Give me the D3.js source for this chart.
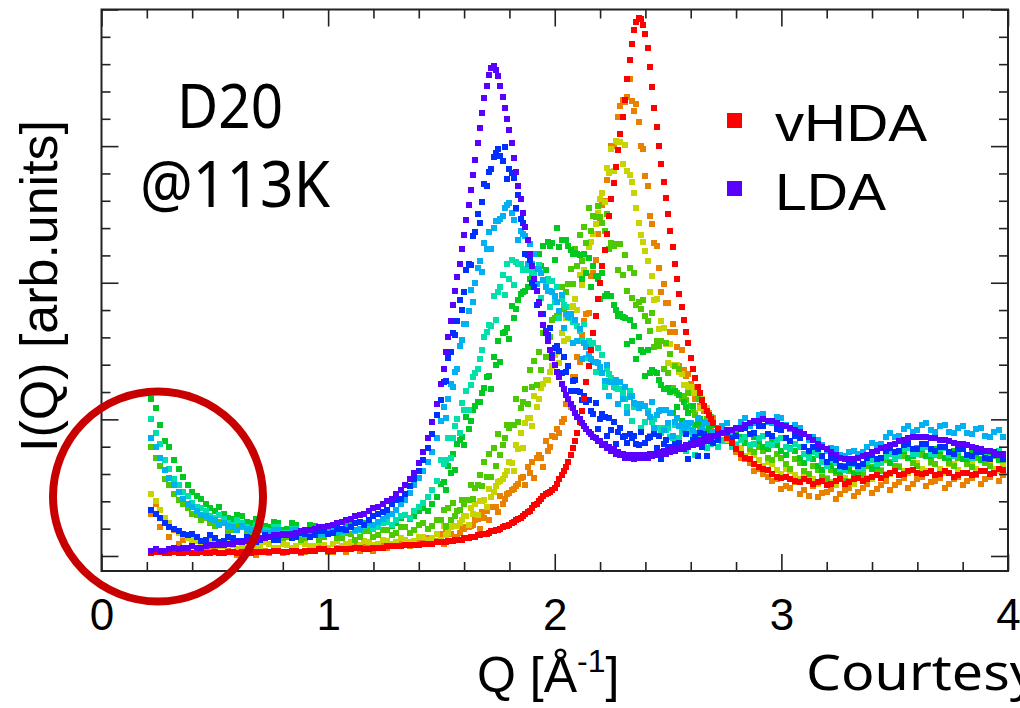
<!DOCTYPE html>
<html><head><meta charset="utf-8">
<script src="https://cdn.jsdelivr.net/npm/d3@7"></script>
<style>body{margin:0;background:#fff;}svg{display:block;}</style>
</head><body>
<svg id="chart" width="1020" height="708"></svg>
<script>
// ---------- DATA ----------
const qLow = [0.22,0.24,0.26,0.28,0.30,0.32,0.34,0.36,0.38,0.40,
0.42,0.44,0.46,0.48,0.50,0.52,0.54,0.56,0.58,0.60,
0.62,0.64,0.66,0.68,0.70,0.72,0.74,0.76,0.78,0.80,
0.82,0.84,0.86,0.88,0.90,0.92,0.94,0.96,0.98,1.00,
1.02,1.04,1.06,1.08,1.10,1.12,1.14,1.16,1.18,1.20,
1.22,1.24,1.26,1.28,1.30,1.32,1.34,1.36,1.38,1.40,
1.42,1.44,1.46,1.48];
const qPeak = [1.50,1.51,1.52,1.53,1.54,1.55,1.56,1.57,1.58,1.59,
1.60,1.61,1.62,1.63,1.64,1.65,1.66,1.67,1.68,1.69,
1.70,1.71,1.72,1.73,1.74,1.75,1.76,1.77,1.78,1.79,
1.80,1.81,1.82,1.83,1.84,1.85,1.86,1.87,1.88,1.89,
1.90,1.91,1.92,1.93,1.94,1.95,1.96,1.97,1.98,1.99,
2.00,2.01,2.02,2.03,2.04,2.05,2.06,2.07,2.08,2.09,
2.10,2.11,2.12,2.13,2.14,2.15,2.16,2.17,2.18,2.19,
2.20,2.21,2.22,2.23,2.24,2.25,2.26,2.27,2.28,2.29,
2.30,2.31,2.32,2.33,2.34,2.35,2.36,2.37,2.38,2.39,
2.40,2.41,2.42,2.43,2.44,2.45,2.46,2.47,2.48,2.49,
2.50,2.51,2.52,2.53,2.54,2.55,2.56,2.57,2.58,2.59,
2.60,2.61,2.62,2.63,2.64,2.65,2.66,2.67,2.68,2.69,
2.70];
const qHigh = [2.72,2.74,2.76,2.78,2.80,2.82,2.84,2.86,2.88,2.90,
2.92,2.94,2.96,2.98,3.00,3.02,3.04,3.06,3.08,3.10,
3.12,3.14,3.16,3.18,3.20,3.22,3.24,3.26,3.28,3.30,
3.32,3.34,3.36,3.38,3.40,3.42,3.44,3.46,3.48,3.50,
3.52,3.54,3.56,3.58,3.60,3.62,3.64,3.66,3.68,3.70,
3.72,3.74,3.76,3.78,3.80,3.82,3.84,3.86,3.88,3.90,
3.92,3.94,3.96,3.98];

const iVHDA = [
2,3,3,2,2,3,2,2,3,2, 2,3,2,2,3,2,2,3,3,2, 3,3,2,3,3,3,3,4,4,3,
3,4,4,3,4,4,4,5,5,4, 4,5,5,5,5,6,6,5,5,6, 6,6,7,7,7,7,8,8,8,8, 9,9,9,10,
10,10,10,11,11,11,12,12,12,12,
13,13,13,14,14,14,15,15,16,16,
16,17,18,18,19,19,20,21,22,22,
23,24,25,26,27,28,29,31,32,33,
35,37,38,40,42,44,45,46,47,48,
50,53,56,59,62,65,69,74,79,84,
90,98,106,115,127,139,151,163,176,188,
200,212,224,236,249,261,273,285,297,309,
321,334,349,363,375,385,391,394,393,389,
382,372,358,343,328,314,300,287,274,262,
250,238,226,214,203,192,182,173,164,156,
145,137,130,124,119,114,110,106,103,100,
97,
93,90,86,83,78,75,72,71,67,65, 64,63,60,58,57,58,56,55,54,56, 55,53,54,55,52,53,55,56,53,54,
56,57,55,56,58,59,57,59,61,62, 59,60,62,63,61,60,61,62,59,60, 62,61,58,59,61,61,59,60,62,62, 60,61,64,63];

const iStep1 = [
31,38,21,27,14,19,9,12,6,8, 5,7,3,5,4,2,2,4,3,1, 2,5,4,1,3,4,2,5,4,2,
3,6,5,2,3,5,4,6,5,3, 3,6,5,3,6,8,4,7,6,4, 7,9,6,9,8,11,9,7,8,11, 10,13,12,11,
16,9,18,17,16,11,22,14,17,20,
20,21,21,22,23,26,27,20,32,28,
33,26,36,36,36,32,44,38,42,45,
46,48,49,51,53,57,58,52,65,61,
69,57,72,74,72,65,84,77,80,88,
87,93,90,98,100,111,113,109,131,131,
146,142,162,172,177,178,205,207,217,236,
244,257,260,275,281,300,300,303,321,329,
334,332,336,349,333,326,331,318,300,298,
278,271,249,243,229,227,211,193,199,185,
185,164,170,164,153,139,151,136,132,133,
126,124,115,115,110,112,106,92,105,95,
101,
92,85,84,80,76,72,71,68,62,64, 60,58,55,56,49,51,50,54,45,48, 44,51,43,46,47,49,42,45,48,50,
44,47,50,53,46,49,52,55,48,52, 54,57,50,53,56,58,51,54,55,57, 50,53,56,58,52,55,57,59,53,56, 58,61,55,59];

const iStep2 = [
45,40,34,28,24,20,17,15,13,12, 11,8,9,12,10,7,7,10,8,5, 6,9,8,6,7,10,9,6,6,9,
8,6,7,10,9,7,7,10,8,6, 9,11,7,9,10,12,8,11,10,8, 9,12,11,9,10,13,12,10,11,14, 14,12,13,16,
12,22,15,17,21,22,22,22,24,26,
29,29,23,35,31,38,30,40,40,41,
36,49,43,47,51,54,55,56,59,62,
69,68,62,81,78,90,79,97,101,101,
95,117,109,115,123,126,129,129,135,139,
147,149,141,163,157,174,159,182,183,188,
180,206,198,209,218,226,230,236,243,251,
261,266,259,284,280,298,282,304,303,303,
287,301,282,279,274,266,255,244,235,230,
223,216,193,205,187,188,166,172,167,155,
141,155,140,139,140,135,133,125,125,122,
124,119,105,119,108,115,96,108,104,98,
87,
93,90,85,84,82,79,73,76,74,70, 66,69,67,63,60,64,62,59,56,61, 59,56,53,59,57,54,52,58,57,55,
53,60,60,57,56,62,63,60,60,66, 66,62,61,68,68,64,62,68,67,64, 61,67,67,63,61,67,67,64,62,68, 68,64,62,66];

const iStep3 = [
80,72,66,56,52,45,41,38,35,31, 30,26,28,24,22,25,24,18,19,22, 21,17,17,20,19,14,15,19,18,13,
14,18,17,12,13,17,16,12,14,18, 17,13,13,17,16,12,14,18,18,14, 15,19,19,15,17,21,21,17,19,23, 24,20,22,26,
26,34,22,35,26,39,29,33,34,41,
38,41,41,52,42,50,52,59,51,69,
58,75,58,79,66,89,74,81,86,96,
94,96,96,115,98,108,113,122,111,136,
124,143,125,149,136,163,146,157,160,173,
174,176,178,197,181,193,199,210,199,225,
212,235,216,241,229,255,238,249,248,256,
248,244,238,250,225,229,227,228,209,228,
206,220,194,211,189,207,184,186,181,187,
176,172,165,178,153,157,154,157,137,156,
134,148,123,139,119,137,115,117,114,119,
110,107,103,115,94,97,98,100,85,102,
86,
87,91,89,84,81,86,83,78,76,80, 77,72,70,75,72,67,64,71,68,62, 60,66,63,58,56,63,61,57,55,62,
61,60,59,66,65,62,62,70,69,66, 65,73,72,68,66,74,73,69,67,73, 72,68,66,72,71,67,65,72,71,68, 66,73,72,70];

const iStep4 = [
115,108,96,84,80,70,64,58,52,47, 44,42,38,35,33,36,31,28,27,30, 29,25,24,27,26,22,21,25,24,19,
20,24,23,18,19,23,22,17,18,22, 22,18,19,23,23,19,20,24,24,20, 21,25,26,22,24,28,30,27,29,33, 35,33,38,43,
53,54,48,66,61,75,63,82,85,87,
81,102,93,99,107,110,113,113,119,123,
131,132,122,146,140,157,142,163,164,167,
159,183,174,181,187,192,193,194,197,203,
207,210,199,221,212,227,209,230,227,229,
217,240,226,231,231,231,227,224,221,222,
221,220,203,221,207,218,197,212,205,203,
188,207,190,192,190,190,184,180,176,177,
175,174,155,173,157,168,144,160,151,149,
132,151,134,136,135,134,129,125,122,122,
123,120,105,121,109,118,99,113,109,105,
92,110,96,97,100,97,97,91,93,91,
96,
94,90,86,84,90,87,83,81,87,84, 80,78,84,81,77,74,79,77,72,68, 73,71,66,63,68,66,62,60,66,64,
60,62,67,68,64,66,71,73,68,71, 76,77,72,73,79,78,73,73,78,77, 72,72,77,76,71,71,76,75,70,71, 76,75,70,72];

const iStep5 = [
100,90,82,70,64,56,52,47,44,39, 36,35,33,29,28,30,27,24,23,26, 24,21,20,23,22,19,18,21,21,17,
17,20,20,16,16,19,19,16,17,20, 20,17,17,20,21,18,19,22,23,20, 21,24,25,23,26,29,30,28,33,36, 39,43,48,55,
70,67,70,86,72,86,95,100,90,112,
107,121,107,125,131,134,137,144,151,160,
164,169,168,190,173,193,197,206,191,214,
203,217,198,215,214,214,209,210,209,212,
208,206,199,213,189,202,199,203,182,201,
186,197,174,188,184,182,175,174,171,172,
168,165,157,170,145,157,153,156,135,152,
137,147,124,137,133,130,124,123,122,122,
119,115,109,121,99,109,110,111,94,110,
98,106,88,98,100,94,94,90,94,92,
94,87,86,96,78,86,91,90,77,91,
83,89,74,84,87,81,83,79,85,82,
86,
80,84,86,80,81,85,87,81,82,86, 88,82,81,85,86,80,78,82,80,75, 72,76,74,69,66,70,68,64,63,67,
67,64,64,69,70,67,68,73,75,72, 73,78,79,75,75,79,80,75,74,78, 79,74,73,77,78,73,72,77,78,73, 72,76,77,74];

const iStep6 = [
86,80,72,63,57,52,47,42,38,36, 33,30,29,27,26,23,24,22,21,19, 22,20,19,18,20,17,17,19,19,16,
16,19,19,17,17,18,19,16,16,18, 19,17,18,20,21,19,20,23,24,23, 25,27,29,31,34,38,41,46,52,57, 62,69,76,86,
99,109,101,115,126,124,135,137,154,158,
170,170,179,195,186,200,211,216,208,229,
225,237,225,240,245,245,247,249,255,257,
258,251,246,254,231,238,236,234,214,228,
214,221,199,210,207,202,197,194,194,193,
190,186,179,191,167,177,175,177,156,173,
157,166,144,156,153,148,144,142,142,141,
138,134,128,140,117,127,127,129,111,127,
115,124,105,116,117,112,111,108,111,110,
110,105,102,113,94,103,106,107,92,107,
97,105,88,98,101,95,96,92,97,95,
97,92,90,101,83,93,97,97,84,99,
91,
90,95,97,91,93,98,101,95,97,103, 104,98,97,102,101,96,93,96,94,89, 85,87,85,81,77,79,78,74,73,76,
77,75,76,80,83,81,82,87,90,87, 88,93,95,91,92,96,97,92,91,95, 96,91,90,94,95,90,89,93,94,88, 87,91,92,87];

const iStep7 = [
34,31,28,24,21,20,18,16,15,16, 14,11,12,15,13,10,11,14,13,11, 11,14,13,10,12,15,14,12,12,15,
15,13,14,17,16,14,15,18,18,16, 17,20,20,19,21,24,25,23,26,29, 31,32,34,38,41,42,45,51,56,62, 70,79,89,103,
114,127,128,145,149,163,162,172,187,180,
193,209,214,213,234,237,250,244,259,272,
271,281,283,292,295,298,293,289,299,276,
283,280,277,255,264,247,244,221,220,217,
200,197,184,186,177,177,165,162,167,147,
152,154,150,134,146,135,139,121,128,129,
121,120,114,117,113,114,106,104,112,93,
100,104,102,88,101,92,98,82,91,94,
87,88,83,89,86,88,82,81,91,73,
83,86,87,73,89,79,88,71,82,85,
80,80,78,82,82,83,79,78,89,71,
82,85,87,73,90,80,89,73,85,88,
83,
85,90,91,86,88,93,94,89,90,95, 95,89,88,93,92,86,84,88,86,80, 77,80,78,73,69,72,70,66,65,68,
68,66,67,72,74,71,72,77,79,76, 77,81,82,78,78,82,82,78,77,80, 80,76,75,78,78,74,73,76,76,72, 71,74,74,71];

const iLDA = [
4,5,4,4,5,6,5,6,6,7, 6,6,7,8,8,8,8,9,9,10, 10,11,11,12,13,13,14,15,15,16,
16,16,17,18,19,19,20,21,21,22, 23,24,25,26,27,29,30,31,33,35, 36,38,40,42,45,48,52,56,61,68, 76,86,98,111,
126,137,149,160,172,184,194,204,214,225,
235,246,257,268,279,290,302,313,324,335,
344,352,357,359,356,351,344,336,328,320,
312,302,291,281,271,261,251,241,231,221,
212,203,194,185,177,169,163,157,151,145,
140,135,131,126,122,118,115,111,108,105,
102,100,97,95,93,91,89,87,86,84,
84,81,82,79,80,77,78,75,76,74,
75,72,74,72,74,71,74,72,74,72,
74,72,75,73,75,74,76,74,77,75,
77,76,78,77,79,78,80,79,81,80,
82,81,83,82,85,83,86,84,87,86,
88,
89,90,92,92,94,94,96,97,99,99, 100,99,99,97,96,95,94,92,91,89, 87,85,82,80,78,76,74,72,71,71,
71,72,73,74,76,77,79,80,81,82, 84,85,86,87,87,87,87,86,86,85, 85,84,83,82,82,81,80,79,78,77, 77,76,75,75];

const seriesNames  = ["step1","step2","step3","step4","step5","step6","step7","vHDA","LDA"];
const seriesColors = ["#e88000","#c8d400","#4ec800","#00c820","#00e0a8","#00b0f0","#0030ff","#ff0000","#5a00ff"];
const seriesValues = [iStep1,iStep2,iStep3,iStep4,iStep5,iStep6,iStep7,iVHDA,iLDA];

const legendNames = ["vHDA","LDA"];
const legendColors = ["#ff0000","#5a00ff"];
const xMajorTicks = [0,1,2,3,4];
const xTickLabels = ["0","1","2","3","4"];
const xMinorTicks = [0.2,0.4,0.6,0.8,1.2,1.4,1.6,1.8,2.2,2.4,2.6,2.8,3.2,3.4,3.6,3.8];
const yMajorTicks = [0,100,200,300,400];
const yMinorTicks = [20,40,60,80,120,140,160,180,220,240,260,280,320,340,360,380];

// ---------- CHART ----------
const qGrid = qLow.concat(qPeak, qHigh);
const svg = d3.select("#chart");
svg.append("rect").attr("width",1020).attr("height",708).attr("fill","#fff");

const x = d3.scaleLinear().domain([0,4]).range([101.5,1008]);
const y = d3.scaleLinear().domain([-11,400]).range([571,9.5]);

const plot = svg.append("g");
seriesValues.forEach((vals,si)=>{
  const pts = qGrid.map((q,i)=>({q, v: vals[i]})).filter(d=>d.v!==undefined);
  plot.append("g").attr("fill",seriesColors[si]).attr("shape-rendering","crispEdges")
    .selectAll("rect").data(pts).join("rect")
    .attr("x",d=>x(d.q)-3).attr("y",d=>y(d.v)-3)
    .attr("width",6).attr("height",6);
});

// frame
svg.append("rect").attr("x",x(0)).attr("y",y(400)).attr("width",x(4)-x(0)).attr("height",y(-11)-y(400))
  .attr("fill","none").attr("stroke","#222").attr("stroke-width",2);

function styleAxis(g){
  g.select(".domain").remove();
  g.selectAll(".tick line").attr("stroke","#222").attr("stroke-width",1.6);
}
const axisFont = "'Liberation Sans', Arial, Helvetica, sans-serif";
// bottom
svg.append("g").attr("transform",`translate(0,${y(-11)})`)
  .call(d3.axisBottom(x).tickValues(xMajorTicks).tickSizeInner(-17).tickSizeOuter(0).tickPadding(28)
        .tickFormat((d,i)=>xTickLabels[i]))
  .call(styleAxis)
  .call(g=>g.selectAll("text").attr("font-size",44).attr("font-family",axisFont).attr("fill","#000"));
svg.append("g").attr("transform",`translate(0,${y(-11)})`)
  .call(d3.axisBottom(x).tickValues(xMinorTicks).tickSizeInner(-9).tickSizeOuter(0).tickFormat(""))
  .call(styleAxis);
// top
svg.append("g").attr("transform",`translate(0,${y(400)})`)
  .call(d3.axisTop(x).tickValues(xMajorTicks).tickSizeInner(-17).tickSizeOuter(0).tickFormat(""))
  .call(styleAxis);
svg.append("g").attr("transform",`translate(0,${y(400)})`)
  .call(d3.axisTop(x).tickValues(xMinorTicks).tickSizeInner(-9).tickSizeOuter(0).tickFormat(""))
  .call(styleAxis);
// left
svg.append("g").attr("transform",`translate(${x(0)},0)`)
  .call(d3.axisLeft(y).tickValues(yMajorTicks).tickSizeInner(-17).tickSizeOuter(0).tickFormat(""))
  .call(styleAxis);
svg.append("g").attr("transform",`translate(${x(0)},0)`)
  .call(d3.axisLeft(y).tickValues(yMinorTicks).tickSizeInner(-9).tickSizeOuter(0).tickFormat(""))
  .call(styleAxis);
// right
svg.append("g").attr("transform",`translate(${x(4)},0)`)
  .call(d3.axisRight(y).tickValues(yMajorTicks).tickSizeInner(-17).tickSizeOuter(0).tickFormat(""))
  .call(styleAxis);
svg.append("g").attr("transform",`translate(${x(4)},0)`)
  .call(d3.axisRight(y).tickValues(yMinorTicks).tickSizeInner(-9).tickSizeOuter(0).tickFormat(""))
  .call(styleAxis);

// axis titles
svg.append("text").attr("transform","translate(57,286) rotate(-90)")
  .attr("text-anchor","middle").attr("font-family",axisFont).attr("font-size",52)
  .attr("textLength",332).attr("lengthAdjust","spacingAndGlyphs")
  .text("I(Q) [arb.units]");
const xt = svg.append("text").attr("x",477).attr("y",692)
  .attr("font-family",axisFont).attr("font-size",50);
xt.append("tspan").text("Q [Å");
xt.append("tspan").attr("dy",-20).attr("font-size",32).text("-1");
xt.append("tspan").attr("dy",20).text("]");

// legend
const lgY = [121,189];
const lgTextY = [141,210];
const lgW = [152,111];
legendNames.forEach((n,i)=>{
  svg.append("rect").attr("x",727).attr("y",lgY[i]-8).attr("width",15).attr("height",15).attr("fill",legendColors[i]);
  svg.append("text").attr("x",775).attr("y",lgTextY[i]).attr("font-family",axisFont).attr("font-size",52)
    .attr("textLength",lgW[i]).attr("lengthAdjust","spacingAndGlyphs").text(n);
});

// annotations
const annFont = "'Noto Sans', 'DejaVu Sans', sans-serif";
svg.append("text").attr("x",177).attr("y",128).attr("font-family",annFont).attr("font-size",62)
  .attr("textLength",106).attr("lengthAdjust","spacingAndGlyphs").text("D20");
svg.append("text").attr("x",140).attr("y",207).attr("font-family",annFont).attr("font-size",64)
  .attr("textLength",190).attr("lengthAdjust","spacingAndGlyphs").text("@113K");
svg.append("text").attr("x",806).attr("y",690).attr("font-family",annFont).attr("font-size",50)
  .attr("textLength",232).attr("lengthAdjust","spacingAndGlyphs").text("Courtesy");

// highlight circle
svg.append("circle").attr("cx",158).attr("cy",496.5).attr("r",105)
  .attr("fill","none").attr("stroke","#c80000").attr("stroke-width",8);
</script>
</body></html>
